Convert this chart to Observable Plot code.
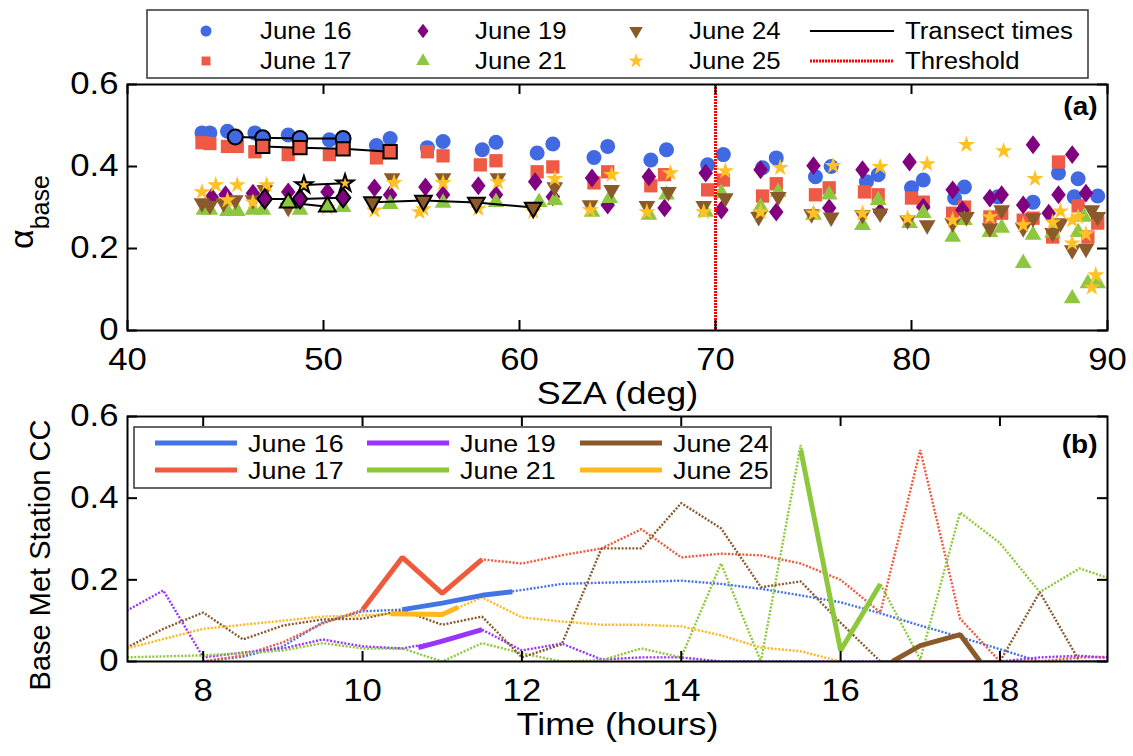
<!DOCTYPE html>
<html><head><meta charset="utf-8">
<script src="https://cdn.jsdelivr.net/npm/d3@7"></script>
<script src="https://cdn.jsdelivr.net/npm/@observablehq/plot@0.6"></script>
<style>
html,body{margin:0;padding:0;background:#fff;}
#wrap{position:relative;width:1133px;height:756px;overflow:hidden;font-family:"Liberation Sans",Arial,sans-serif;}
#top,#bot,#over{position:absolute;left:0;}
#top{top:0}#bot{top:400px}#over{top:0;pointer-events:none}
</style></head><body>
<div id="wrap"><div id="top"></div><div id="bot"></div><svg id="over" width="1133" height="756"></svg></div>
<script>
// ---------------- DATA (panel a: albedo vs SZA) ----------------
const days = ["June 16","June 17","June 19","June 21","June 24","June 25"];
const xTicksA = [40,50,60,70,80,90];
const yTicks = [0,0.2,0.4,0.6];
const threshold = [70];

const sza16 = [43.8,44.2,45.1,46.5,48.2,50.3,52.7,53.4,55.3,56.1,58.1,58.8,60.9,61.7,63.8,64.5,66.7,67.5,69.6,70.4,72.4,73.1,75.1,75.9,77.7,78.3,80.0,80.6,82.2,82.7,84.4,86.2,87.5,88.5,88.3,89.5];
const alb16 = [0.482,0.482,0.486,0.482,0.477,0.465,0.451,0.468,0.446,0.461,0.441,0.459,0.433,0.455,0.422,0.449,0.416,0.441,0.404,0.429,0.397,0.421,0.375,0.400,0.363,0.380,0.348,0.367,0.323,0.350,0.326,0.313,0.384,0.370,0.326,0.328];
const sza17 = [43.8,44.2,45.1,45.6,46.5,48.2,50.3,52.7,55.3,56.1,58.0,58.8,60.9,61.7,63.8,64.5,66.7,67.4,69.6,70.4,72.4,73.1,75.1,75.8,77.6,78.3,80.0,80.6,82.1,82.7,84.0,84.6,85.7,86.2,87.2,87.5,88.5,89.0,89.5];
const alb17 = [0.458,0.456,0.449,0.449,0.436,0.429,0.429,0.421,0.436,0.426,0.404,0.414,0.387,0.399,0.360,0.387,0.353,0.380,0.343,0.367,0.328,0.358,0.331,0.348,0.338,0.331,0.323,0.313,0.286,0.301,0.277,0.286,0.269,0.274,0.228,0.411,0.304,0.228,0.262];
const sza19 = [44.3,45.0,46.4,48.2,50.2,52.6,53.4,55.2,56.1,57.9,58.8,60.8,61.7,63.7,64.5,66.6,67.4,69.5,70.3,72.3,73.1,75.0,75.8,77.5,78.4,79.9,80.6,82.1,82.6,84.0,84.6,85.7,86.2,87.0,87.5,88.2,88.9];
const alb19 = [0.325,0.331,0.335,0.338,0.338,0.348,0.331,0.350,0.331,0.353,0.331,0.363,0.326,0.372,0.306,0.375,0.299,0.384,0.294,0.392,0.289,0.402,0.299,0.392,0.289,0.411,0.301,0.343,0.294,0.323,0.331,0.306,0.453,0.286,0.331,0.429,0.335];
const sza21 = [43.9,44.2,45.1,45.6,46.4,46.9,48.8,51.0,53.4,56.1,58.8,61.0,61.8,63.7,64.6,66.6,67.5,69.5,70.3,72.3,73.2,75.0,75.8,77.5,78.3,79.9,80.6,82.1,82.7,84.0,84.6,85.7,86.2,87.2,88.2,88.5,88.8,89.0,89.5];
const alb21 = [0.294,0.294,0.291,0.291,0.294,0.294,0.294,0.301,0.308,0.311,0.313,0.313,0.318,0.289,0.323,0.282,0.331,0.289,0.335,0.301,0.338,0.282,0.331,0.257,0.318,0.262,0.286,0.228,0.269,0.240,0.250,0.164,0.233,0.238,0.078,0.240,0.277,0.115,0.115];
const sza24 = [43.8,44.2,44.9,45.5,46.4,47.0,48.2,53.5,56.1,58.9,61.8,63.6,64.7,66.5,67.6,69.4,70.5,72.2,73.2,74.9,75.9,77.5,78.4,79.8,80.8,82.1,82.8,84.0,84.6,85.7,86.2,87.2,87.6,88.2,88.9,89.2,89.5];
const alb24 = [0.311,0.305,0.311,0.318,0.318,0.343,0.300,0.372,0.372,0.372,0.350,0.306,0.343,0.304,0.338,0.304,0.323,0.277,0.326,0.284,0.276,0.282,0.286,0.269,0.257,0.262,0.277,0.250,0.294,0.250,0.274,0.238,0.262,0.196,0.200,0.294,0.277];
const sza25 = [43.8,44.5,45.1,45.6,46.4,47.1,50.2,52.6,53.6,54.9,55.1,56.1,57.9,58.9,60.7,61.8,63.6,64.7,66.5,67.7,69.4,70.5,72.3,73.3,75.0,76.0,77.5,78.4,79.8,80.8,82.1,82.8,84.0,84.7,85.7,86.3,87.2,87.6,88.2,88.2,88.5,88.9,89.4,89.2];
const alb25 = [0.338,0.355,0.318,0.355,0.313,0.355,0.300,0.293,0.360,0.289,0.296,0.360,0.297,0.362,0.290,0.370,0.294,0.380,0.289,0.384,0.289,0.389,0.289,0.397,0.286,0.402,0.286,0.399,0.274,0.406,0.269,0.453,0.277,0.438,0.257,0.370,0.264,0.291,0.269,0.213,0.277,0.235,0.135,0.105];

// transect-time points
const tSza16 = [45.5,46.9,48.8,51.0], tAlb16 = [0.472,0.470,0.468,0.468];
const tSza17 = [46.9,48.8,51.0,53.4], tAlb17 = [0.449,0.446,0.443,0.436];
const tSza19 = [47.0,48.8,51.0],      tAlb19 = [0.321,0.321,0.324];
const tSza21 = [48.2,50.2],           tAlb21 = [0.312,0.302];
const tSza24 = [52.5,55.1,57.8,60.7], tAlb24 = [0.313,0.317,0.312,0.300];
const tSza25 = [49.0,51.1],           tAlb25 = [0.355,0.359];

// ---------------- DATA (panel b: cloud cover vs time) ----------------
const xTicksB = [8,10,12,14,16,18];
const t16d = [8.0,8.5,9.0,9.5,10.0,10.5,11.0,11.5,12.0,12.5,13.0,13.5,14.0,14.5,15.0,15.5,16.0,16.5,17.0,17.5,18.0,18.5,19.0,19.5];
const c16d = [0.0,0.012,0.037,0.096,0.123,0.127,0.143,0.162,0.175,0.19,0.193,0.195,0.198,0.19,0.178,0.162,0.145,0.118,0.088,0.06,0.03,0.0,0.0,0.0];
const t17d = [8.0,8.5,9.0,9.5,10.0,10.5,11.0,11.5,12.0,12.5,13.0,13.5,14.0,14.5,15.0,15.5,16.0,16.5,17.0,17.5,18.0,18.5,19.0,19.5];
const c17d = [0.0,0.015,0.047,0.093,0.127,0.255,0.167,0.25,0.24,0.26,0.277,0.324,0.255,0.264,0.26,0.24,0.2,0.12,0.518,0.105,0.0,0.0,0.01,0.012];
const t19d = [7.0,7.5,8.0,8.5,9.0,9.5,10.0,10.5,11.0,11.5,12.0,12.5,13.0,13.5,14.0,14.5,15.0,16.0,17.0,18.0,18.5,19.0,19.5];
const c19d = [0.12,0.174,0.01,0.022,0.032,0.054,0.037,0.032,0.05,0.078,0.027,0.044,0.005,0.01,0.01,0.0,0.0,0.0,0.0,0.0,0.01,0.014,0.007];
const t21d = [7.0,8.0,8.5,9.0,9.5,10.0,10.5,11.0,11.5,12.0,12.5,13.0,13.5,14.0,14.5,15.0,15.5,16.0,16.5,17.0,17.5,18.0,18.5,19.0,19.5];
const c21d = [0.01,0.015,0.02,0.027,0.045,0.032,0.032,0.0,0.045,0.02,0.0,0.003,0.032,0.01,0.24,0.0,0.53,0.027,0.19,0.005,0.365,0.29,0.17,0.228,0.195];
const t24d = [7.0,7.5,8.0,8.5,9.0,9.5,10.0,10.5,11.0,11.5,12.0,12.5,13.0,13.5,14.0,14.5,15.0,15.5,16.0,16.5,17.0,17.5,18.0,18.5,19.0,19.5];
const c24d = [0.03,0.08,0.12,0.054,0.088,0.103,0.105,0.125,0.09,0.11,0.01,0.042,0.277,0.277,0.388,0.326,0.182,0.196,0.095,0.0,0.0,0.0,0.0,0.17,0.0,0.0];
const t25d = [7.0,8.0,9.0,9.5,10.0,10.5,11.0,11.5,12.0,12.5,13.0,13.5,14.0,14.5,15.0,15.5,16.0];
const c25d = [0.03,0.08,0.1,0.11,0.113,0.118,0.115,0.157,0.108,0.098,0.09,0.09,0.086,0.064,0.034,0.025,0.0];
// transect-time segments (thick)
const t16s = [10.5,11.0,11.5,11.88], c16s = [0.127,0.143,0.162,0.171];
const t17s = [10.0,10.5,11.0,11.5],  c17s = [0.127,0.255,0.167,0.25];
const t19s = [10.7,11.0,11.5],       c19s = [0.034,0.05,0.078];
const t21s = [15.5,16.0,16.5],       c21s = [0.518,0.027,0.19];
const t24s = [16.65,17.0,17.5,17.75],c24s = [0.0,0.039,0.066,0.0];
const t25s = [10.35,11.0,11.2],      c25s = [0.117,0.115,0.133];

// ---------------- STYLE ----------------
const FONT = "Liberation Sans, Arial, sans-serif";
const scatterCol = ["#4169E1","#EE5A45","#800080","#8DC63F","#8B5A2B","#FFC125"];
const lineCol    = ["#4374E6","#F05A3C","#9933FF","#8CC83A","#8B5A2B","#FFB81C"];
const triDown = {draw(ctx, size){ const s=Math.sqrt(size*4/Math.sqrt(3)), h=s*Math.sqrt(3)/2;
  ctx.moveTo(0,h*2/3); ctx.lineTo(s/2,-h/3); ctx.lineTo(-s/2,-h/3); ctx.closePath(); }};
const diamondM = {draw(ctx, size){ const a=Math.sqrt(size/2.6), b=1.3*a;
  ctx.moveTo(0,-b); ctx.lineTo(a,0); ctx.lineTo(0,b); ctx.lineTo(-a,0); ctx.closePath(); }};
const shapes = ["circle","square",diamondM,"triangle",triDown,"star"];
const radii  = [7.5,7.5,6.6,6.2,6.2,5.4];
const fmtY = d => d === 0 ? "0" : d3.format(".1f")(d);

const rows = (xs, ys) => xs.map((x,i)=>({x, y: ys[i]}));
const scatter = [[sza16,alb16],[sza17,alb17],[sza19,alb19],[sza21,alb21],[sza24,alb24],[sza25,alb25]];
const transect = [[tSza16,tAlb16],[tSza17,tAlb17],[tSza19,tAlb19],[tSza21,tAlb21],[tSza24,tAlb24],[tSza25,tAlb25]];
const dotted = [[t16d,c16d],[t17d,c17d],[t19d,c19d],[t21d,c21d],[t24d,c24d],[t25d,c25d]];
const solid  = [[t16s,c16s],[t17s,c17s],[t19s,c19s],[t21s,c21s],[t24s,c24s],[t25s,c25s]];

const W = 1133, ML = 127, MR = 26, PW = W-ML-MR;
const TICK = 10;

function frameTicks(xt, yt, ph){
  return [
    Plot.frame({stroke:"#000", strokeWidth:2}),
    Plot.tickX(xt, {x:d=>d, insetTop: ph-TICK, stroke:"#000", strokeWidth:2}),
    Plot.tickX(xt, {x:d=>d, insetBottom: ph-TICK, stroke:"#000", strokeWidth:2}),
    Plot.tickY(yt, {y:d=>d, insetRight: PW-TICK, stroke:"#000", strokeWidth:2}),
    Plot.tickY(yt, {y:d=>d, insetLeft: PW-TICK, stroke:"#000", strokeWidth:2}),
    Plot.axisX({ticks: xt, tickSize:0, tickPadding:17, fontSize:31, label:null}),
    Plot.axisY({ticks: yt, tickSize:0, tickPadding:9, fontSize:31, label:null, tickFormat: fmtY})
  ];
}

// ---------------- PANEL (a) ----------------
const hA = 400, mtA = 84, mbA = 70, phA = hA-mtA-mbA;
const marksA = [];
scatter.forEach(([xs,ys],k)=>marksA.push(Plot.dot(rows(xs,ys),{x:"x",y:"y",symbol:shapes[k],r:radii[k],fill:scatterCol[k],stroke:"none"})));
transect.forEach(([xs,ys])=>marksA.push(Plot.line(rows(xs,ys),{x:"x",y:"y",stroke:"#000",strokeWidth:2})));
transect.forEach(([xs,ys],k)=>marksA.push(Plot.dot(rows(xs,ys),{x:"x",y:"y",symbol:shapes[k],r:radii[k],fill:scatterCol[k],stroke:"#000",strokeWidth:2})));
marksA.push(Plot.ruleX(threshold,{x:d=>d, stroke:"#FF0000", strokeWidth:3, strokeDasharray:"2 1"}));
marksA.push(...frameTicks(xTicksA, yTicks, phA));
marksA.push(Plot.text(["SZA (deg)"],{frameAnchor:"bottom", dy:63, lineAnchor:"middle", fontSize:32}));
marksA.push(Plot.text(["(a)"],{frameAnchor:"top-right", dx:-10, dy:13, lineAnchor:"top", textAnchor:"end", fontSize:25, fontWeight:"bold"}));

const plotA = Plot.plot({
  width: W, height: hA, marginLeft: ML, marginRight: MR, marginTop: mtA, marginBottom: mbA,
  style: {fontFamily: FONT, fontSize: "31px", color: "#000", background: "transparent", overflow: "visible"},
  x: {domain: [40,90]}, y: {domain: [0,0.6]},
  marks: marksA
});
document.getElementById("top").appendChild(plotA);

// ---------------- PANEL (b) ----------------
const hB = 356, mtB = 16, mbB = 95, phB = hB-mtB-mbB;
const marksB = [];
dotted.forEach(([xs,ys],k)=>marksB.push(Plot.line(rows(xs,ys),{x:"x",y:"y",stroke:lineCol[k],strokeWidth:2.4,strokeDasharray:"2 1.6",strokeLinecap:"butt",strokeLinejoin:"miter",clip:true})));
solid.forEach(([xs,ys],k)=>marksB.push(Plot.line(rows(xs,ys),{x:"x",y:"y",stroke:lineCol[k],strokeWidth:5,strokeLinecap:"butt",strokeLinejoin:"miter",clip:true})));
marksB.push(...frameTicks(xTicksB, yTicks, phB));
marksB.push(Plot.text(["Time (hours)"],{frameAnchor:"bottom", dy:63, lineAnchor:"middle", fontSize:32}));
marksB.push(Plot.text(["(b)"],{frameAnchor:"top-right", dx:-10, dy:19, lineAnchor:"top", textAnchor:"end", fontSize:25, fontWeight:"bold"}));

const plotB = Plot.plot({
  width: W, height: hB, marginLeft: ML, marginRight: MR, marginTop: mtB, marginBottom: mbB,
  style: {fontFamily: FONT, fontSize: "31px", color: "#000", background: "transparent", overflow: "visible"},
  x: {domain: [7.05,19.35]}, y: {domain: [0,0.6]},
  marks: marksB
});
document.getElementById("bot").appendChild(plotB);

// ---------------- OVERLAY: legends & rotated titles ----------------
const over = d3.select("#over").style("font-family", FONT);

// y titles
const ya = over.append("text").attr("transform","translate(33,212) rotate(-90)").attr("text-anchor","middle").attr("fill","#000");
ya.append("tspan").attr("font-size",34).text("α");
ya.append("tspan").attr("font-size",25).attr("dy",16).text("base");
over.append("text").attr("transform","translate(50,555) rotate(-90)").attr("text-anchor","middle")
  .attr("font-size",29).attr("fill","#000").text("Base Met Station CC");

// top legend
over.append("rect").attr("x",147).attr("y",10).attr("width",941).attr("height",68)
  .attr("fill","#fff").attr("stroke","#333").attr("stroke-width",1.5);
const legSym = [d3.symbolCircle, d3.symbolSquare, diamondM, d3.symbolTriangle, triDown, d3.symbolStar];
const legSize = [95, 80, 80, 80, 80, 70];
const colMk = [206,423,636], colTx = [260,475,689], rowY = [31,61];
days.forEach((d,k)=>{
  const c = Math.floor(k/2), r = k%2;
  over.append("path").attr("d", d3.symbol(legSym[k], legSize[k])())
    .attr("transform",`translate(${colMk[c]},${rowY[r]})`).attr("fill",scatterCol[k]);
  over.append("text").attr("x",colTx[c]).attr("y",rowY[r]+8).attr("font-size",23).attr("fill","#000").text(d);
});
over.append("line").attr("x1",810).attr("x2",894).attr("y1",31).attr("y2",31).attr("stroke","#000").attr("stroke-width",2);
over.append("text").attr("x",905).attr("y",39).attr("font-size",23).text("Transect times");
over.append("line").attr("x1",810).attr("x2",894).attr("y1",61).attr("y2",61).attr("stroke","#FF0000").attr("stroke-width",3).attr("stroke-dasharray","2 1");
over.append("text").attr("x",905).attr("y",69).attr("font-size",23).text("Threshold");

// bottom legend
over.append("rect").attr("x",134).attr("y",427).attr("width",637).attr("height",61)
  .attr("fill","#fff").attr("stroke","#333").attr("stroke-width",1.5);
const bLine = [155,367,580], bTx = [248,460,673], bRow = [443,470];
days.forEach((d,k)=>{
  const c = Math.floor(k/2), r = k%2;
  over.append("line").attr("x1",bLine[c]).attr("x2",bLine[c]+82).attr("y1",bRow[r]).attr("y2",bRow[r])
    .attr("stroke",lineCol[k]).attr("stroke-width",5);
  over.append("text").attr("x",bTx[c]).attr("y",bRow[r]+9).attr("font-size",24).attr("fill","#000").text(d);
});

// widen horizontal text to match the reference's letter proportions
function stretch(k){
  document.querySelectorAll("#wrap text").forEach(t=>{
    const tr = t.getAttribute("transform") || "";
    if (tr.includes("rotate")) return;
    const L = t.getComputedTextLength();
    if (L > 0){ t.setAttribute("textLength", (L*k).toFixed(1)); t.setAttribute("lengthAdjust","spacingAndGlyphs"); }
  });
}
stretch(1.12);
</script></body></html>
